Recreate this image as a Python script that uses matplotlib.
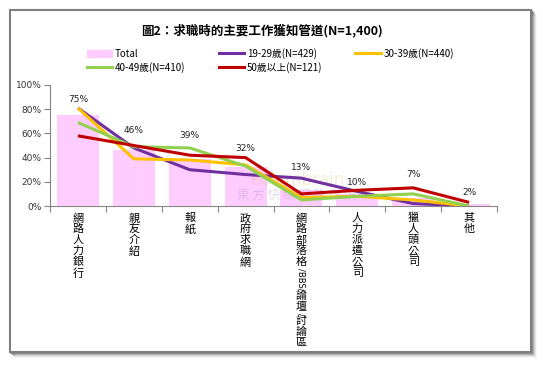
import numpy as np
import matplotlib
matplotlib.use('Agg')
import matplotlib.pyplot as plt
from matplotlib.patches import Rectangle, Patch
from matplotlib.lines import Line2D

plt.rcParams['font.family'] = ['Noto Sans CJK TC', 'DejaVu Sans']

categories = ['網路人力銀行', '親友介紹', '報紙', '政府求職網',
              '網路部落格/BBS/論壇/討論區', '人力派遣公司', '獵人頭公司', '其他']
total = [75, 46, 39, 32, 13, 10, 7, 2]
age_19_29 = [81, 48, 30, 26, 23, 12, 2, 0]
age_30_39 = [81, 39, 38, 34, 7, 8, 5, 0]
age_40_49 = [69, 49, 48, 33, 5, 8, 10, 0]
age_50_up = [58, 50, 42, 40, 10, 13, 15, 3]
yticks = [0, 20, 40, 60, 80, 100]

series = [
    ('19-29歲(N=429)', age_19_29, '#7030A0'),
    ('30-39歲(N=440)', age_30_39, '#FFC000'),
    ('40-49歲(N=410)', age_40_49, '#92D050'),
    ('50歲以上(N=121)', age_50_up, '#C00000'),
]
# extra lift (px) of the total labels above the bars, as placed in the original
label_lift = [16, 20, 23, 19, 23, 11, 23, 11]

W, H = 543, 365
fig = plt.figure(figsize=(W / 100, H / 100), dpi=100)
fig.patch.set_facecolor('white')


def fx(x):
    return x / W


def fy(y):
    return 1 - y / H


# outer frame with soft shadow
for k, a in enumerate([0.35, 0.25, 0.15, 0.08, 0.04]):
    fig.add_artist(Rectangle((fx(10 + k + 1), fy(352 + k + 1)), fx(521), 342 / H,
                             transform=fig.transFigure, facecolor='none',
                             edgecolor='black', alpha=a, lw=1.2, zorder=0))
fig.add_artist(Rectangle((fx(10), fy(352)), fx(521), 342 / H, transform=fig.transFigure,
                         facecolor='white', edgecolor='#7f7f7f', lw=1.5, zorder=1))

ax = fig.add_axes([fx(50), fy(206), fx(447), 121 / H])
ax.set_zorder(2)
ax.patch.set_alpha(0)

x = np.arange(len(categories))

ax.bar(x, total, width=0.75, color='#FFCCFF', zorder=1)

# faint watermark over the bars, under the lines
ax.annotate('eolembrain', xy=(0, 0), xycoords='figure pixels', xytext=(fx(297) * W, H - 180),
            textcoords='figure pixels', fontsize=12, color='#e8b878', alpha=0.3,
            ha='center', va='center', family='DejaVu Sans', zorder=2)
ax.annotate('東 方 快 線 網 路 市 調', xy=(0, 0), xycoords='figure pixels',
            xytext=(297, H - 195), textcoords='figure pixels', fontsize=9, color='#9a8cb8',
            alpha=0.3, ha='center', va='center', zorder=2)

for name, vals, col in series:
    ax.plot(x, vals, color=col, lw=2.2, zorder=3, solid_capstyle='butt')

for i, v in enumerate(total):
    ax.annotate(f'{v}%', xy=(i, v), xytext=(0, label_lift[i]), textcoords='offset pixels',
                ha='center', va='center', fontsize=6.5, color='#222222',
                family='DejaVu Sans', zorder=4)

ax.set_xlim(-0.5, len(categories) - 0.5)
ax.set_ylim(0, 100)
ax.set_yticks(yticks)
ax.set_yticklabels([f'{t}%' for t in yticks], fontsize=6.5, color='#333333',
                   family='DejaVu Sans')
ax.set_xticks(np.arange(len(categories) + 1) - 0.5)
ax.set_xticklabels([])
ax.tick_params(axis='both', direction='out', length=4, color='#868686', width=0.8, pad=2)
for s in ['top', 'right']:
    ax.spines[s].set_visible(False)
for s in ['left', 'bottom']:
    ax.spines[s].set_color('#868686')
    ax.spines[s].set_linewidth(0.8)

# vertical stacked category labels
renderer = fig.canvas.get_renderer()
for i, lab in enumerate(categories):
    runs = []
    for ch in lab:
        if ord(ch) < 128 and runs and ord(runs[-1][0]) < 128:
            runs[-1] += ch
        else:
            runs.append(ch)
    off = -7
    for r in runs:
        ascii_run = ord(r[0]) < 128
        t = ax.annotate(r, xy=(i, 0), xycoords=('data', 'axes fraction'),
                        xytext=(0, off), textcoords='offset pixels',
                        ha='center', va='top', fontsize=6 if ascii_run else 8,
                        color='black', rotation=-90 if ascii_run else 0,
                        family=['DejaVu Sans'] if ascii_run else ['Noto Sans CJK TC'],
                        annotation_clip=False)
        if ascii_run:
            off -= t.get_window_extent(renderer).height
        else:
            off -= 11

fig.text(fx(262), fy(30), '圖2：求職時的主要工作獲知管道(N=1,400)', fontsize=9,
         fontweight='bold', ha='center', va='center')

handles = [Patch(color='#FFCCFF')] + [Line2D([0], [0], color=c, lw=2.2) for _, _, c in series]
labels = ['Total'] + [n for n, _, _ in series]
order = [0, 3, 1, 4, 2]
fig.legend([handles[k] for k in order], [labels[k] for k in order], ncol=3,
           loc='upper left', bbox_to_anchor=(fx(82), fy(43)), frameon=False,
           fontsize=7, handlelength=2.6, handleheight=0.7, handletextpad=0.3,
           columnspacing=3.4, labelspacing=0.3, borderpad=0)

fig.savefig('out.png', dpi=100, facecolor='white')
